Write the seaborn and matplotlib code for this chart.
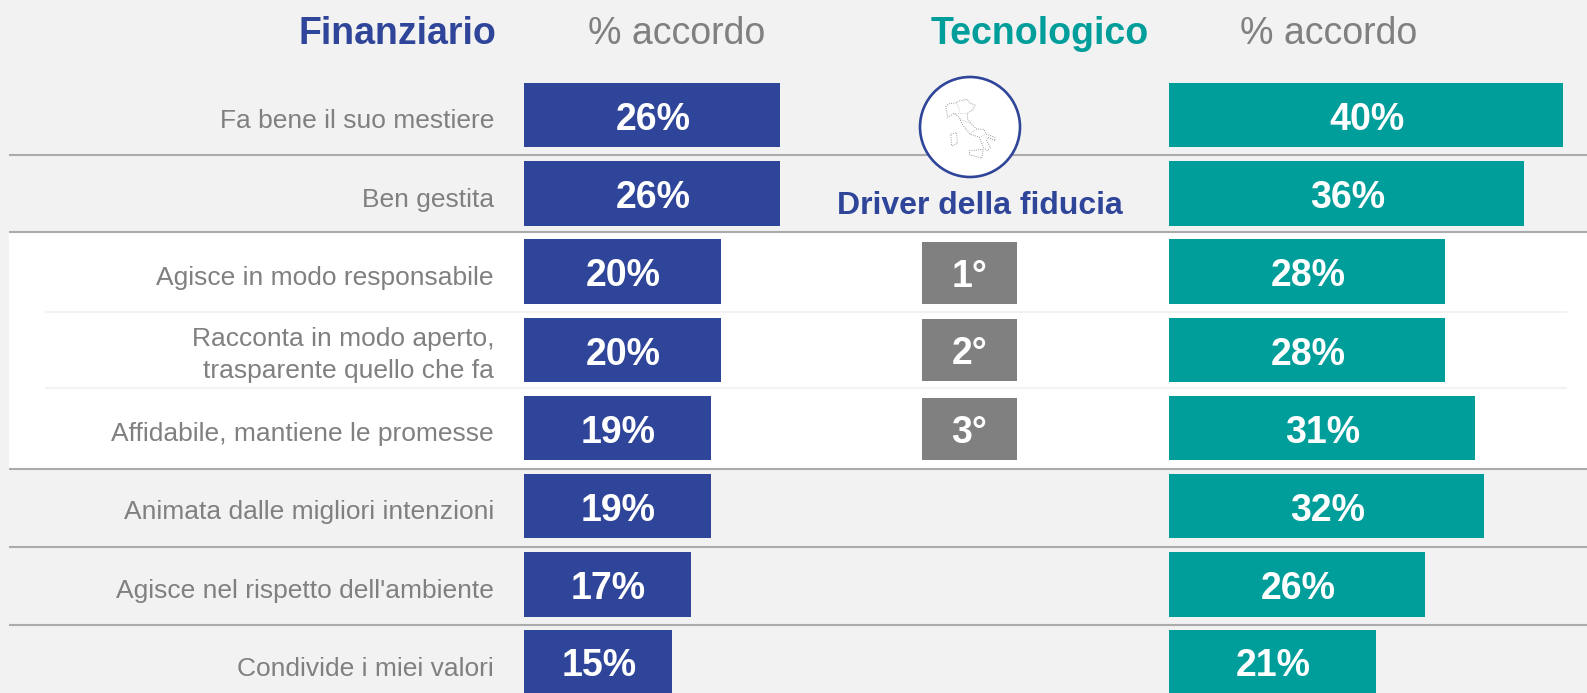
import matplotlib
matplotlib.use("Agg")
import matplotlib.pyplot as plt
from matplotlib.patches import Rectangle, Circle, Polygon
import pandas as pd
import seaborn as sns

categories = ["Fa bene il suo mestiere", "Ben gestita", "Agisce in modo responsabile",
              "Racconta in modo aperto,\ntrasparente quello che fa",
              "Affidabile, mantiene le promesse", "Animata dalle migliori intenzioni",
              "Agisce nel rispetto dell'ambiente", "Condivide i miei valori"]
finanziario = [26, 26, 20, 20, 19, 19, 17, 15]
tecnologico = [40, 36, 28, 28, 31, 32, 26, 21]
ranks = ["1°", "2°", "3°"]

BLUE, TEAL, GREY, BG, RULE = "#2F4599", "#009E9A", "#808080", "#F2F2F2", "#ABABAB"
W, H = 1587, 693
ROW0, PITCH, BAR_H = 115.25, 78.2, 64.5
PX_PER_PCT = 9.85

sns.set_theme(style="white")
plt.rcParams["font.family"] = ["Liberation Sans", "DejaVu Sans"]

fig = plt.figure(figsize=(W / 100, H / 100), dpi=100, facecolor=BG)

# pixel-coordinate layer for the page furniture
bg = fig.add_axes([0, 0, 1, 1], zorder=0)
bg.set_xlim(0, W)
bg.set_ylim(H, 0)
bg.axis("off")
bg.add_patch(Rectangle((9, 232), W - 9, 237, fc="white", ec="none", zorder=1))
for y in [154.5, 232, 469, 546.9, 625]:
    bg.plot([9, W], [y, y], color=RULE, lw=1.5, zorder=2, solid_capstyle="butt")
for y in [311.7, 388]:
    bg.plot([45, 1567], [y, y], color="#F2F2F2", lw=1.5, zorder=2, solid_capstyle="butt")


def bars(left, values, color):
    ax = fig.add_axes([left / W, 0, (W - left) / W, 1], zorder=2)
    df = pd.DataFrame({"cat": categories, "val": values})
    sns.barplot(data=df, y="cat", x="val", order=categories, color=color, saturation=1,
                width=BAR_H / PITCH, ax=ax, edgecolor="none")
    ax.set_xlim(0, (W - left) / PX_PER_PCT)
    ax.set_ylim((H - ROW0) / PITCH, -ROW0 / PITCH)
    ax.patch.set_alpha(0)
    for s in ax.spines.values():
        s.set_visible(False)
    ax.set_xlabel("")
    ax.set_ylabel("")
    ax.set_xticks([])
    ax.set_yticks([])
    labels = ax.bar_label(ax.containers[0], labels=[f"{v}%" for v in values], label_type="center",
                          color="white", fontsize=27, fontweight="bold")
    for t in labels:
        t.xyann = (0.6, -3.4)
    return ax


ax1 = bars(524, finanziario, BLUE)
ax2 = bars(1169.2, tecnologico, TEAL)

for i, c in enumerate(categories):
    dy = 5.0 if "\n" in c else 6.2
    ax1.annotate(c, xy=(0, i), xytext=(-30 * 0.72, -dy * 0.72), textcoords="offset points",
                 ha="right", va="center", ma="right", fontsize=19, color=GREY, linespacing=1.4)

# headers
top = dict(va="center", fontsize=27, zorder=5)
bg.text(496, 34.5, "Finanziario", ha="right", color=BLUE, fontweight="bold", **top)
bg.text(588, 34.5, "% accordo", ha="left", color=GREY, **top)
bg.text(931, 34.5, "Tecnologico", ha="left", color=TEAL, fontweight="bold", **top)
bg.text(1240, 34.5, "% accordo", ha="left", color=GREY, **top)

# trust-driver panel
bg.add_patch(Circle((970, 127), 50, fc="white", ec=BLUE, lw=1.9, zorder=5))
italy = [(197, 140), (205, 132), (230, 128), (240, 122), (262, 118), (268, 128), (285, 135),
         (278, 150), (262, 160), (262, 175), (272, 190), (290, 207), (312, 208), (318, 222),
         (345, 232), (345, 243), (325, 232), (318, 240), (332, 262), (322, 272), (310, 262),
         (298, 232), (270, 222), (248, 195), (238, 172), (222, 160), (203, 172)]
sicily = [(268, 272), (310, 268), (305, 295), (285, 288), (270, 285)]
sardinia = [(212, 222), (230, 218), (232, 250), (215, 258)]
regions = [[(222, 160), (262, 160)], [(240, 178), (272, 190)], [(270, 222), (290, 207)],
           [(298, 232), (318, 222)], [(230, 128), (240, 155)]]
for shape in (italy, sicily, sardinia):
    pts = [(880 + x / 3, 60 + y / 3) for x, y in shape]
    bg.add_patch(Polygon(pts, closed=True, fc="white", ec="#777777", lw=0.6, ls=":", zorder=6))
for seg in regions:
    bg.plot([880 + p[0] / 3 for p in seg], [60 + p[1] / 3 for p in seg], color="#AAAAAA",
            lw=0.5, ls=":", zorder=7)
bg.text(979.5, 206.5, "Driver della fiducia", ha="center", va="center", color=BLUE,
        fontsize=23, fontweight="bold", zorder=5)
for (y0, r) in zip([242, 319, 398], ranks):
    bg.add_patch(Rectangle((922, y0), 95, 62, fc=GREY, ec="none", zorder=5))
    bg.text(969.5, y0 + 35, r, ha="center", va="center", color="white", fontsize=27,
            fontweight="bold", zorder=6)

fig.savefig("out.png", dpi=100, facecolor=BG)
